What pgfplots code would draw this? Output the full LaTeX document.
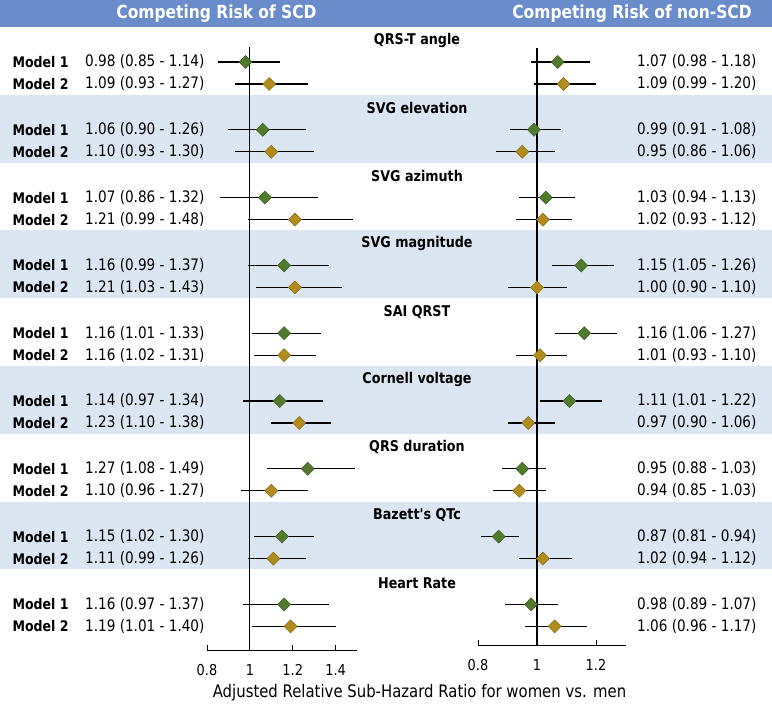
\documentclass[border=0pt]{standalone}
\usepackage{pgfplots}
\pgfplotsset{compat=1.18}
\usepackage{pgfplotstable}
\usepackage{fontspec}
\setmainfont{DejaVu Sans}[FakeStretch=0.86, Ligatures=TeXOff]
\definecolor{hdr}{HTML}{6B8CCB}
\definecolor{band}{HTML}{DCE6F2}
\definecolor{gfill}{HTML}{527A2E}
\definecolor{gdraw}{HTML}{3D5E20}
\definecolor{yfill}{HTML}{B08B1E}
\definecolor{ydraw}{HTML}{8A6C12}

% SCD, model 1
\pgfplotstableread{
y est lo hi
-62 0.98 0.85 1.14
-129.8 1.06 0.90 1.26
-197.6 1.07 0.86 1.32
-265.4 1.16 0.99 1.37
-333.2 1.16 1.01 1.33
-401 1.14 0.97 1.34
-468.8 1.27 1.08 1.49
-536.6 1.15 1.02 1.30
-604.4 1.16 0.97 1.37
}\scdA
% SCD, model 2
\pgfplotstableread{
y est lo hi
-84 1.09 0.93 1.27
-151.8 1.10 0.93 1.30
-219.6 1.21 0.99 1.48
-287.4 1.21 1.03 1.43
-355.2 1.16 1.02 1.31
-423 1.23 1.10 1.38
-490.8 1.10 0.96 1.27
-558.6 1.11 0.99 1.26
-626.4 1.19 1.01 1.40
}\scdB
% non-SCD, model 1
\pgfplotstableread{
y est lo hi
-62 1.07 0.98 1.18
-129.8 0.99 0.91 1.08
-197.6 1.03 0.94 1.13
-265.4 1.15 1.05 1.26
-333.2 1.16 1.06 1.27
-401 1.11 1.01 1.22
-468.8 0.95 0.88 1.03
-536.6 0.87 0.81 0.94
-604.4 0.98 0.89 1.07
}\nscdA
% non-SCD, model 2
\pgfplotstableread{
y est lo hi
-84 1.09 0.99 1.20
-151.8 0.95 0.86 1.06
-219.6 1.02 0.93 1.12
-287.4 1.00 0.90 1.10
-355.2 1.01 0.93 1.10
-423 0.97 0.90 1.06
-490.8 0.94 0.85 1.03
-558.6 1.02 0.94 1.12
-626.4 1.06 0.96 1.17
}\nscdB

\pgfplotsset{
  forest/.style={
    scale only axis, clip=false,
    axis x line*=bottom, axis y line=none,
    axis line style={-, line width=1pt, black},
    tick align=inside, major tick length=5pt,
    xtick style={line width=1pt, black},
    ytick=\empty,
    /pgf/number format/assume math mode=true,
    xticklabel style={font=\fontsize{15}{17}\selectfont, yshift=-11pt},
  },
  ci/.style={only marks, mark=none,
    error bars/.cd, x dir=both, x explicit, error mark=none,
    error bar style={line width=1.3pt, black}},
  gm/.style={only marks, mark=square*, mark size=4.6pt,
    mark options={rotate=45, fill=gfill, draw=gdraw, line width=0.5pt}},
  ym/.style={only marks, mark=square*, mark size=4.6pt,
    mark options={rotate=45, fill=yfill, draw=ydraw, line width=0.5pt}},
}

\begin{document}
\begin{tikzpicture}
\useasboundingbox (0,0) rectangle (772pt,-711pt);
\fill[white] (0,0) rectangle (772pt,-711pt);
\begin{scope}[x=1pt,y=-1pt]
  \fill[hdr] (0,0) rectangle (772,27);
  \foreach \t in {108.3,243.9,379.5,515.1}{
    \fill[band] (0,\t-13.5) rectangle (772,\t+54.3);
  }
  \node[font=\bfseries\fontsize{18}{21}\selectfont, text=white] at (216.5,14) {Competing Risk of SCD};
  \node[font=\bfseries\fontsize{18}{21}\selectfont, text=white] at (632,14) {Competing Risk of non-SCD};
  \foreach \t/\nm in {40.5/QRS-T angle,108.3/SVG elevation,176.1/SVG azimuth,243.9/SVG magnitude,311.7/SAI QRST,379.5/Cornell voltage,447.3/QRS duration,515.1/Bazett's QTc,582.9/Heart Rate}{
    \node[font=\bfseries\fontsize{14.8}{17}\selectfont] at (417,\t) {\nm};
  }
  \foreach \y/\m/\a/\b in {
    62/1/0.98 (0.85 - 1.14)/1.07 (0.98 - 1.18),
    84/2/1.09 (0.93 - 1.27)/1.09 (0.99 - 1.20),
    129.8/1/1.06 (0.90 - 1.26)/0.99 (0.91 - 1.08),
    151.8/2/1.10 (0.93 - 1.30)/0.95 (0.86 - 1.06),
    197.6/1/1.07 (0.86 - 1.32)/1.03 (0.94 - 1.13),
    219.6/2/1.21 (0.99 - 1.48)/1.02 (0.93 - 1.12),
    265.4/1/1.16 (0.99 - 1.37)/1.15 (1.05 - 1.26),
    287.4/2/1.21 (1.03 - 1.43)/1.00 (0.90 - 1.10),
    333.2/1/1.16 (1.01 - 1.33)/1.16 (1.06 - 1.27),
    355.2/2/1.16 (1.02 - 1.31)/1.01 (0.93 - 1.10),
    401/1/1.14 (0.97 - 1.34)/1.11 (1.01 - 1.22),
    423/2/1.23 (1.10 - 1.38)/0.97 (0.90 - 1.06),
    468.8/1/1.27 (1.08 - 1.49)/0.95 (0.88 - 1.03),
    490.8/2/1.10 (0.96 - 1.27)/0.94 (0.85 - 1.03),
    536.6/1/1.15 (1.02 - 1.30)/0.87 (0.81 - 0.94),
    558.6/2/1.11 (0.99 - 1.26)/1.02 (0.94 - 1.12),
    604.4/1/1.16 (0.97 - 1.37)/0.98 (0.89 - 1.07),
    626.4/2/1.19 (1.01 - 1.40)/1.06 (0.96 - 1.17)}{
    \node[anchor=west, font=\bfseries\fontsize{14.6}{17}\selectfont] at (9,\y) {Model \m};
    \node[anchor=east, font=\fontsize{15.8}{18}\selectfont] at (208,\y) {\a};
    \node[anchor=east, font=\fontsize{15.8}{18}\selectfont] at (760,\y) {\b};
  }
  \node[font=\fontsize{17.3}{20}\selectfont] at (419.5,693) {Adjusted Relative Sub-Hazard Ratio for women vs. men};
\end{scope}

\begin{axis}[forest, at={(207pt,-650pt)}, anchor=south west,
  width=150pt, height=623pt, xmin=0.8, xmax=1.5, ymin=-650, ymax=-27,
  xtick={0.8,1,1.2,1.4}]
  \addplot[black, line width=1.2pt] coordinates {(1,-47) (1,-650)};
  \addplot[ci] table[x=est, y=y, x error plus expr=\thisrow{hi}-\thisrow{est}, x error minus expr=\thisrow{est}-\thisrow{lo}] {\scdA};
  \addplot[ci] table[x=est, y=y, x error plus expr=\thisrow{hi}-\thisrow{est}, x error minus expr=\thisrow{est}-\thisrow{lo}] {\scdB};
  \addplot[gm] table[x=est, y=y] {\scdA};
  \addplot[ym] table[x=est, y=y] {\scdB};
\end{axis}

\begin{axis}[forest, at={(478pt,-645pt)}, anchor=south west,
  width=147.5pt, height=618pt, xmin=0.8, xmax=1.3, ymin=-645, ymax=-27,
  xtick={0.8,1,1.2}]
  \addplot[black, line width=1.2pt] coordinates {(1,-48) (1,-645)};
  \addplot[ci] table[x=est, y=y, x error plus expr=\thisrow{hi}-\thisrow{est}, x error minus expr=\thisrow{est}-\thisrow{lo}] {\nscdA};
  \addplot[ci] table[x=est, y=y, x error plus expr=\thisrow{hi}-\thisrow{est}, x error minus expr=\thisrow{est}-\thisrow{lo}] {\nscdB};
  \addplot[gm] table[x=est, y=y] {\nscdA};
  \addplot[ym] table[x=est, y=y] {\nscdB};
\end{axis}
\end{tikzpicture}
\end{document}
